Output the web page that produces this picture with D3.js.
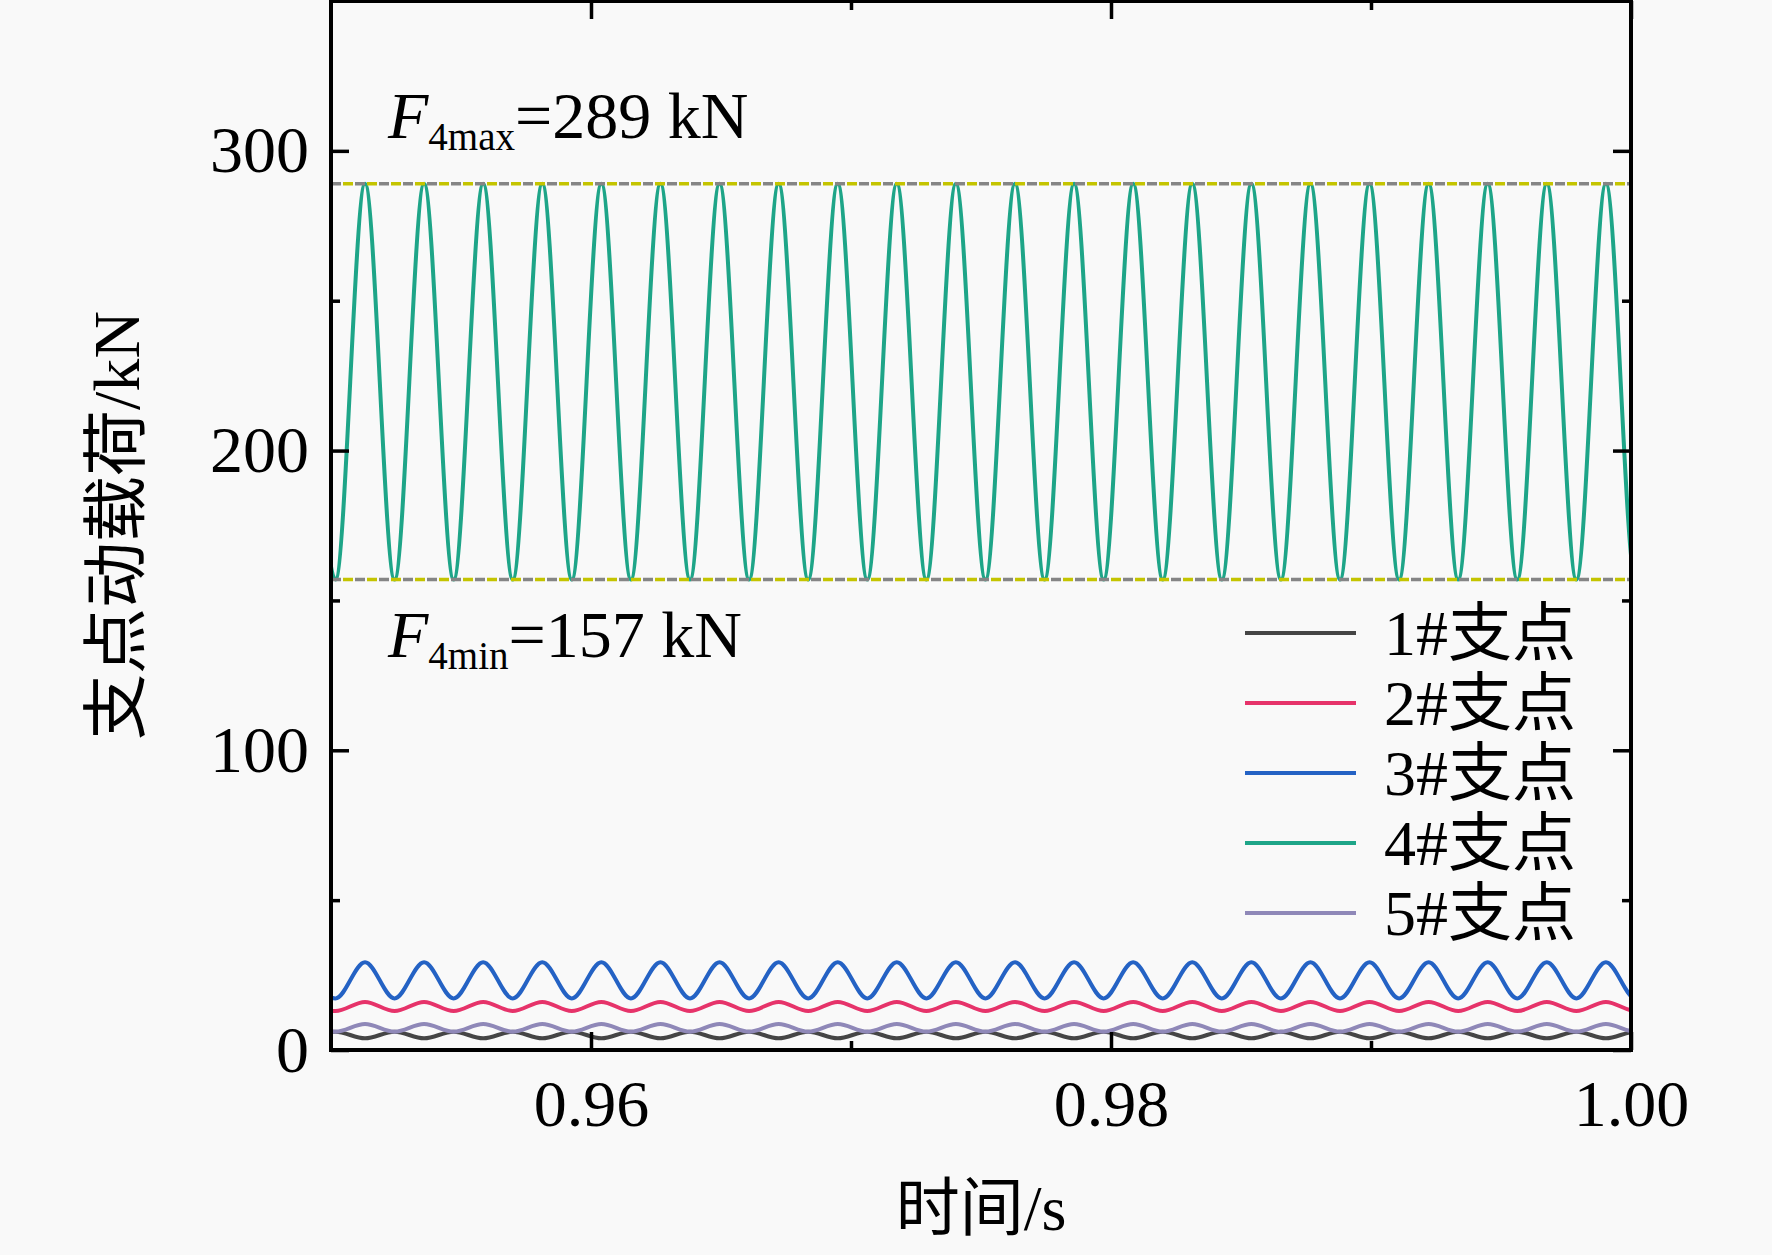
<!DOCTYPE html>
<html lang="zh">
<head>
<meta charset="utf-8">
<title>支点动载荷</title>
<script src="https://cdn.jsdelivr.net/npm/d3@7"></script>
<style>
  html, body { margin: 0; padding: 0; background: #f9f9f9; }
  svg { display: block; }
  .tick text { font-family: "Liberation Serif", "Times New Roman", serif; font-size: 66px; fill: #000; }
  .tick line { stroke: #000; stroke-width: 3.5; }
  .label { font-family: "Liberation Serif", "Noto Sans CJK SC", serif; font-size: 64px; fill: #000; }
</style>
</head>
<body>
<script>
// time of each crest / trough (s)
var times = [
  0.949035, 0.950171, 0.951308, 0.952444, 0.953580, 0.954717, 0.955853, 0.956990,
  0.958126, 0.959262, 0.960399, 0.961535, 0.962671, 0.963808, 0.964944, 0.966080,
  0.967217, 0.968353, 0.969490, 0.970626, 0.971762, 0.972899, 0.974035, 0.975171,
  0.976308, 0.977444, 0.978580, 0.979717, 0.980853, 0.981990, 0.983126, 0.984262,
  0.985399, 0.986535, 0.987671, 0.988808, 0.989944, 0.991080, 0.992217, 0.993353,
  0.994490, 0.995626, 0.996762, 0.997899, 0.999035, 1.000171, 1.001308
];

// loads (kN) at those times
var load1 = [
  3.9, 6.1, 3.9, 6.1, 3.9, 6.1, 3.9, 6.1, 3.9, 6.1, 3.9, 6.1, 3.9, 6.1, 3.9, 6.1,
  3.9, 6.1, 3.9, 6.1, 3.9, 6.1, 3.9, 6.1, 3.9, 6.1, 3.9, 6.1, 3.9, 6.1, 3.9, 6.1,
  3.9, 6.1, 3.9, 6.1, 3.9, 6.1, 3.9, 6.1, 3.9, 6.1, 3.9, 6.1, 3.9, 6.1, 3.9
];
var load2 = [
  16.0, 13.0, 16.0, 13.0, 16.0, 13.0, 16.0, 13.0, 16.0, 13.0, 16.0, 13.0, 16.0, 13.0, 16.0, 13.0,
  16.0, 13.0, 16.0, 13.0, 16.0, 13.0, 16.0, 13.0, 16.0, 13.0, 16.0, 13.0, 16.0, 13.0, 16.0, 13.0,
  16.0, 13.0, 16.0, 13.0, 16.0, 13.0, 16.0, 13.0, 16.0, 13.0, 16.0, 13.0, 16.0, 13.0, 16.0
];
var load3 = [
  29.3, 17.2, 29.3, 17.2, 29.3, 17.2, 29.3, 17.2, 29.3, 17.2, 29.3, 17.2, 29.3, 17.2, 29.3, 17.2,
  29.3, 17.2, 29.3, 17.2, 29.3, 17.2, 29.3, 17.2, 29.3, 17.2, 29.3, 17.2, 29.3, 17.2, 29.3, 17.2,
  29.3, 17.2, 29.3, 17.2, 29.3, 17.2, 29.3, 17.2, 29.3, 17.2, 29.3, 17.2, 29.3, 17.2, 29.3
];
var load4 = [
  289, 157, 289, 157, 289, 157, 289, 157, 289, 157, 289, 157, 289, 157, 289, 157,
  289, 157, 289, 157, 289, 157, 289, 157, 289, 157, 289, 157, 289, 157, 289, 157,
  289, 157, 289, 157, 289, 157, 289, 157, 289, 157, 289, 157, 289, 157, 289
];
var load5 = [
  8.7, 6.1, 8.7, 6.1, 8.7, 6.1, 8.7, 6.1, 8.7, 6.1, 8.7, 6.1, 8.7, 6.1, 8.7, 6.1,
  8.7, 6.1, 8.7, 6.1, 8.7, 6.1, 8.7, 6.1, 8.7, 6.1, 8.7, 6.1, 8.7, 6.1, 8.7, 6.1,
  8.7, 6.1, 8.7, 6.1, 8.7, 6.1, 8.7, 6.1, 8.7, 6.1, 8.7, 6.1, 8.7, 6.1, 8.7
];

var seriesNames = ["1#支点", "2#支点", "3#支点", "4#支点", "5#支点"];
var seriesColors = ["#454545", "#e6336a", "#2462c4", "#1ea588", "#8f88b8"];
var seriesLoads = [load1, load2, load3, load4, load5];

var F4max = 289;
var F4min = 157;

var xMajor = [0.96, 0.98, 1.00];
var xMinor = [0.97, 0.99];
var yMajor = [0, 100, 200, 300];
var yMinor = [50, 150, 250];

var W = 1772, H = 1255;
var plotL = 331, plotR = 1631, plotT = 1, plotB = 1050;

var svg = d3.select("body").append("svg")
  .attr("width", W)
  .attr("height", H)
  .style("background", "#f9f9f9");

var x = d3.scaleLinear().domain([0.95, 1.00]).range([plotL, plotR]);
var y = d3.scaleLinear().domain([0, 350]).range([plotB, plotT]);

svg.append("clipPath").attr("id", "plot")
  .append("rect")
  .attr("x", plotL).attr("y", plotT)
  .attr("width", plotR - plotL).attr("height", plotB - plotT);

// curves
var line = d3.line()
  .x(function(d) { return x(d[0]); })
  .y(function(d) { return y(d[1]); })
  .curve(d3.curveMonotoneX);

var lines = svg.append("g").attr("clip-path", "url(#plot)");
[0, 1, 2, 4, 3].forEach(function(s) {
  var pts = times.map(function(t, i) { return [t, seriesLoads[s][i]]; });
  lines.append("path")
    .attr("d", line(pts))
    .attr("fill", "none")
    .attr("stroke", seriesColors[s])
    .attr("stroke-width", 4);
});

// max / min reference lines (gray + yellow dashes)
[F4max, F4min].forEach(function(v) {
  lines.append("line")
    .attr("x1", plotL).attr("x2", plotR)
    .attr("y1", y(v)).attr("y2", y(v))
    .attr("stroke", "#858585").attr("stroke-width", 3.5)
    .attr("stroke-dasharray", "10 14");
  lines.append("line")
    .attr("x1", plotL).attr("x2", plotR)
    .attr("y1", y(v)).attr("y2", y(v))
    .attr("stroke", "#c4c400").attr("stroke-width", 3.5)
    .attr("stroke-dasharray", "10 14")
    .attr("stroke-dashoffset", -12);
});

// axes, ticks pointing inwards on all four sides
function clean(g) { g.select(".domain").remove(); }

svg.append("g").attr("transform", "translate(0," + plotB + ")")
  .call(d3.axisBottom(x).tickValues(xMajor).tickFormat(d3.format(".2f"))
    .tickSizeInner(-18).tickSizeOuter(0).tickPadding(29))
  .call(clean);
svg.append("g").attr("transform", "translate(0," + plotB + ")")
  .call(d3.axisBottom(x).tickValues(xMinor).tickFormat("").tickSizeInner(-9).tickSizeOuter(0))
  .call(clean);
svg.append("g").attr("transform", "translate(0," + plotT + ")")
  .call(d3.axisTop(x).tickValues(xMajor).tickFormat("").tickSizeInner(-18).tickSizeOuter(0))
  .call(clean);
svg.append("g").attr("transform", "translate(0," + plotT + ")")
  .call(d3.axisTop(x).tickValues(xMinor).tickFormat("").tickSizeInner(-9).tickSizeOuter(0))
  .call(clean);

svg.append("g").attr("transform", "translate(" + plotL + ",0)")
  .call(d3.axisLeft(y).tickValues(yMajor).tickFormat(d3.format("d"))
    .tickSizeInner(-18).tickSizeOuter(0).tickPadding(22))
  .call(clean);
svg.append("g").attr("transform", "translate(" + plotL + ",0)")
  .call(d3.axisLeft(y).tickValues(yMinor).tickFormat("").tickSizeInner(-9).tickSizeOuter(0))
  .call(clean);
svg.append("g").attr("transform", "translate(" + plotR + ",0)")
  .call(d3.axisRight(y).tickValues(yMajor).tickFormat("").tickSizeInner(-18).tickSizeOuter(0))
  .call(clean);
svg.append("g").attr("transform", "translate(" + plotR + ",0)")
  .call(d3.axisRight(y).tickValues(yMinor).tickFormat("").tickSizeInner(-9).tickSizeOuter(0))
  .call(clean);

svg.selectAll(".tick text").attr("font-family", null).attr("font-size", null);

// frame
svg.append("rect")
  .attr("x", plotL).attr("y", plotT)
  .attr("width", plotR - plotL).attr("height", plotB - plotT)
  .attr("fill", "none").attr("stroke", "#000").attr("stroke-width", 4);

// axis titles
svg.append("text").attr("class", "label")
  .attr("x", (plotL + plotR) / 2).attr("y", 1230)
  .attr("text-anchor", "middle")
  .style("font-size", "64px")
  .text("时间/s");

svg.append("text").attr("class", "label")
  .attr("transform", "translate(116," + (plotT + plotB) / 2 + ") rotate(-90)")
  .attr("text-anchor", "middle")
  .attr("dominant-baseline", "central")
  .style("font-size", "66px")
  .text("支点动载荷/kN");

// annotations
function note(ypos, sub, value) {
  var t = svg.append("text").attr("class", "label")
    .attr("x", 388).attr("y", ypos)
    .style("font-size", "66px");
  t.append("tspan").style("font-style", "italic").text("F");
  t.append("tspan").style("font-size", "39px").attr("dy", 12).text(sub);
  t.append("tspan").attr("dy", -12).text("=" + value + " kN");
}
note(138, "4max", F4max);
note(657, "4min", F4min);

// legend
var legend = svg.append("g");
seriesNames.forEach(function(name, i) {
  var ly = 633 + i * 70;
  legend.append("line")
    .attr("x1", 1245).attr("x2", 1356)
    .attr("y1", ly).attr("y2", ly)
    .attr("stroke", seriesColors[i]).attr("stroke-width", 4);
  legend.append("text").attr("class", "label")
    .attr("x", 1384).attr("y", ly)
    .attr("dominant-baseline", "central")
    .text(name);
});
</script>
</body>
</html>
